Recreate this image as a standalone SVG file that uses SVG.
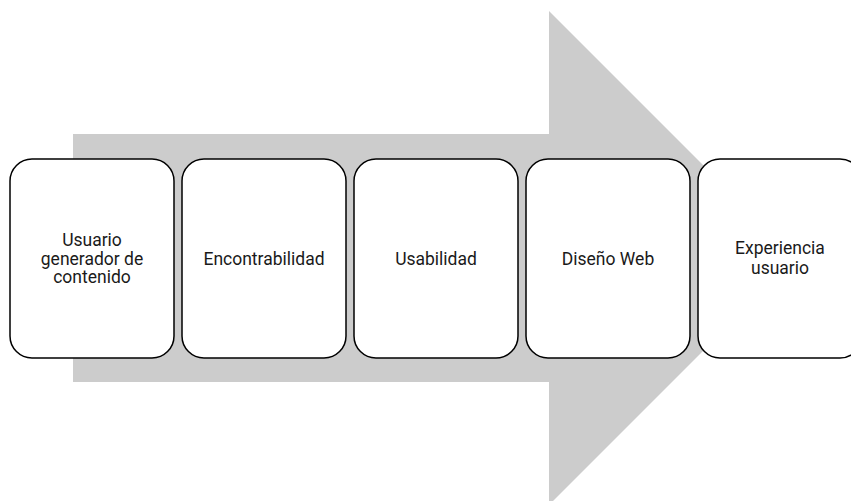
<svg xmlns="http://www.w3.org/2000/svg" width="851" height="501" viewBox="0 0 851 501">
<style>
.box{fill:#fff;stroke:#000;stroke-width:1.5}
.t{font-family:Roboto,"Liberation Sans",sans-serif;font-size:17.5px;fill:#1a1a1a;text-anchor:middle}
</style>
<rect width="851" height="501" fill="#fff"/>
<g id="arrow">
<polygon points="73,134 549,134 549,11 796,258 549,505 549,382 73,382" fill="#cccccc"/>
</g>
<g id="n1"><rect class="box" x="10" y="159" width="164" height="199" rx="22"/>
<text class="t" x="92" y="246">Usuario</text><text class="t" x="92" y="264.5">generador de</text><text class="t" x="92" y="283">contenido</text></g>
<g id="n2"><rect class="box" x="182" y="159" width="164" height="199" rx="22"/>
<text class="t" x="264" y="265">Encontrabilidad</text></g>
<g id="n3"><rect class="box" x="354" y="159" width="164" height="199" rx="22"/>
<text class="t" x="436" y="265">Usabilidad</text></g>
<g id="n4"><rect class="box" x="526" y="159" width="164" height="199" rx="22"/>
<text class="t" x="608" y="265">Diseño Web</text></g>
<g id="n5"><rect class="box" x="698" y="159" width="164" height="199" rx="22"/>
<text class="t" x="780" y="254">Experiencia</text><text class="t" x="780" y="274">usuario</text></g>
<g id="connectors"></g>
</svg>
